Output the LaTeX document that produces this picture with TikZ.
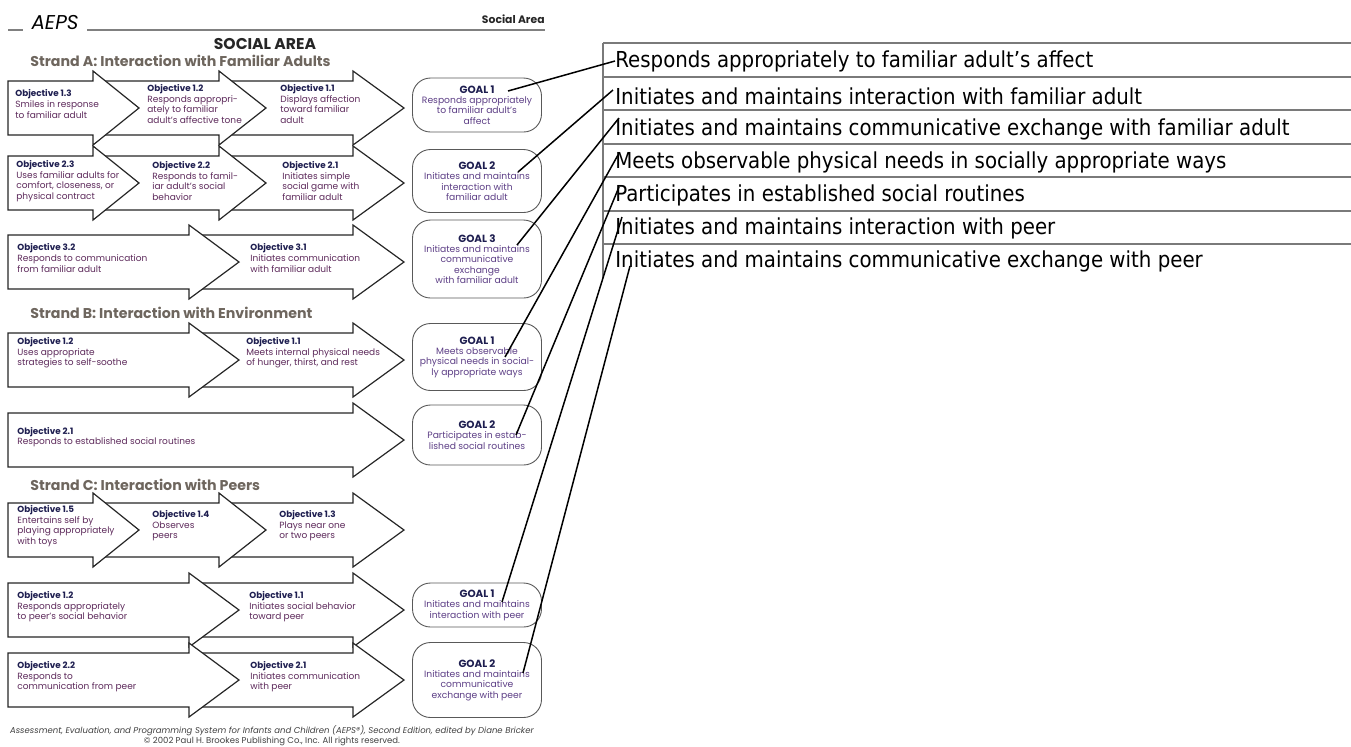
\documentclass[tikz,border=0pt]{standalone}
\usepackage{fontspec}
\setmainfont{Poppins}
\newfontfamily\tablefont{DejaVu Sans Condensed}

\definecolor{objblue}{HTML}{1E1E50}
\definecolor{objtext}{HTML}{5E2B5C}
\definecolor{goaltext}{HTML}{5D3F86}
\definecolor{strandcol}{HTML}{6E665E}
\definecolor{rulegray}{HTML}{7A7A7A}

\newcommand{\objhead}[1]{{\fontsize{4.4}{5.3}\selectfont\bfseries\color{objblue}#1}}
\newcommand{\goalhead}[1]{{\fontsize{5.2}{6}\selectfont\bfseries\color{objblue}#1}}
\newcommand{\objarrow}[4]{\draw[arrowline] (#1,#4-27) -- (#2,#4-27) -- (#2,#4-37) -- (#3,#4) -- (#2,#4+37) -- (#2,#4+27) -- (#1,#4+27) -- cycle;}

\begin{document}
\begin{tikzpicture}[x=0.5pt,y=-0.5pt,
	arrowline/.style={draw=black!85,fill=white,line width=0.6pt,line join=miter},
	objtxt/.style={anchor=west,align=left,inner sep=0pt,text=objtext,font=\fontsize{4.5}{5.3}\selectfont},
	goalbox/.style={draw=black!65,line width=0.45pt,fill=white,rounded corners=9pt,minimum width=64.5pt,inner sep=0pt,align=center,text=goaltext,font=\fontsize{4.6}{5.2}\selectfont},
	strand/.style={anchor=west,inner sep=0pt,text=strandcol,font=\fontsize{7.1}{8}\selectfont\bfseries},
	rowtxt/.style={anchor=west,inner sep=0pt,font=\tablefont\fontsize{11}{13}\selectfont},
	tabrule/.style={draw=rulegray,line width=0.75pt},
	link/.style={draw=black,line width=0.75pt}]
\useasboundingbox (0,0) rectangle (1351,746);

\node[inner sep=0pt,font=\fontsize{10}{12}\selectfont\itshape] (aeps) at (55,23) {AEPS};
\draw[draw=black!50,line width=0.6pt] (8,30) -- (23,30);
\draw[draw=black!50,line width=0.6pt] (87,30) -- (545,30);
\node[anchor=east,inner sep=0pt,font=\fontsize{5.4}{7}\selectfont\bfseries,text=black!85] (area) at (545,19) {Social Area};
\node[inner sep=0pt,font=\fontsize{7.8}{9}\selectfont\bfseries,text=black!85] (title) at (265,44) {SOCIAL AREA};

\node[strand] (strA) at (30,61) {Strand A: Interaction with Familiar Adults};
\node[strand] (strB) at (30,313) {Strand B: Interaction with Environment};
\node[strand] (strC) at (30,485) {Strand C: Interaction with Peers};

\objarrow{219}{353}{404}{108}
\objarrow{93}{219}{266}{108}
\objarrow{8}{93}{139}{108}
\objarrow{219}{353}{404}{183}
\objarrow{93}{219}{266}{183}
\objarrow{8}{93}{139}{183}
\objarrow{189}{353}{404}{262}
\objarrow{8}{189}{239}{262}
\objarrow{189}{353}{404}{360}
\objarrow{8}{189}{239}{360}
\objarrow{8}{353}{404}{440}
\objarrow{219}{353}{404}{530}
\objarrow{93}{219}{266}{530}
\objarrow{8}{93}{139}{530}
\objarrow{189}{353}{404}{610}
\objarrow{8}{189}{239}{610}
\objarrow{189}{353}{404}{680}
\objarrow{8}{189}{239}{680}

\node[objtxt] (oA13) at (15,104) {\objhead{Objective 1.3}\\Smiles in response\\to familiar adult};
\node[objtxt] (oA12) at (147,104) {\objhead{Objective 1.2}\\Responds appropri-\\ately to familiar\\adult's affective tone};
\node[objtxt] (oA11) at (280,104) {\objhead{Objective 1.1}\\Displays affection\\toward familiar\\adult};
\node[objtxt] (oA23) at (16,181) {\objhead{Objective 2.3}\\Uses familiar adults for\\comfort, closeness, or\\physical contract};
\node[objtxt] (oA22) at (152,181) {\objhead{Objective 2.2}\\Responds to famil-\\iar adult's social\\behavior};
\node[objtxt] (oA21) at (282,181) {\objhead{Objective 2.1}\\Initiates simple\\social game with\\familiar adult};
\node[objtxt] (oA32) at (17,258) {\objhead{Objective 3.2}\\Responds to communication\\from familiar adult};
\node[objtxt] (oA31) at (250,258) {\objhead{Objective 3.1}\\Initiates communication\\with familiar adult};
\node[objtxt] (oB12) at (17,353) {\objhead{Objective 1.2}\\Uses appropriate\\strategies to self-soothe};
\node[objtxt] (oB11) at (246,353) {\objhead{Objective 1.1}\\Meets internal physical needs\\of hunger, thirst, and rest};
\node[objtxt] (oB21) at (17,437) {\objhead{Objective 2.1}\\Responds to established social routines};
\node[objtxt] (oC15) at (17,526) {\objhead{Objective 1.5}\\Entertains self by\\playing appropriately\\with toys};
\node[objtxt] (oC14) at (152,526) {\objhead{Objective 1.4}\\Observes\\peers};
\node[objtxt] (oC13) at (279,526) {\objhead{Objective 1.3}\\Plays near one\\or two peers};
\node[objtxt] (oC12) at (17,607) {\objhead{Objective 1.2}\\Responds appropriately\\to peer's social behavior};
\node[objtxt] (oC11) at (249,607) {\objhead{Objective 1.1}\\Initiates social behavior\\toward peer};
\node[objtxt] (oC22) at (17,677) {\objhead{Objective 2.2}\\Responds to\\communication from peer};
\node[objtxt] (oC21) at (250,677) {\objhead{Objective 2.1}\\Initiates communication\\with peer};

\node[goalbox,minimum height=27pt] (gA1) at (477,105) {\goalhead{GOAL 1}\\Responds appropriately\\to familiar adult's\\affect};
\node[goalbox,minimum height=31.5pt] (gA2) at (477,181) {\goalhead{GOAL 2}\\Initiates and maintains\\interaction with\\familiar adult};
\node[goalbox,minimum height=39pt] (gA3) at (477,259) {\goalhead{GOAL 3}\\Initiates and maintains\\communicative\\exchange\\with familiar adult};
\node[goalbox,minimum height=33.5pt] (gB1) at (477,357) {\goalhead{GOAL 1}\\Meets observable\\physical needs in social-\\ly appropriate ways};
\node[goalbox,minimum height=30pt] (gB2) at (477,435) {\goalhead{GOAL 2}\\Participates in estab-\\lished social routines};
\node[goalbox,minimum height=22pt] (gC1) at (477,605) {\goalhead{GOAL 1}\\Initiates and maintains\\interaction with peer};
\node[goalbox,minimum height=37.5pt] (gC2) at (477,680) {\goalhead{GOAL 2}\\Initiates and maintains\\communicative\\exchange with peer};

\node[align=center,inner sep=0pt,text=black!75,font=\fontsize{4.25}{5}\selectfont] (foot) at (272,736) {\textit{Assessment, Evaluation, and Programming System for Infants and Children (AEPS®), Second Edition, edited by Diane Bricker}\\© 2002 Paul H. Brookes Publishing Co., Inc. All rights reserved.};

\foreach \y in {43,77,110,144,177,211,244}
	\draw[tabrule] (603,\y) -- (1351,\y);
\draw[tabrule] (603,43) -- (603,278);

\node[rowtxt] (tA1) at (615,61) {Responds appropriately to familiar adult’s affect};
\node[rowtxt] (tA2) at (615,96) {Initiates and maintains interaction with familiar adult};
\node[rowtxt] (tA3) at (615,129) {Initiates and maintains communicative exchange with familiar adult};
\node[rowtxt] (tB1) at (615,162) {Meets observable physical needs in socially appropriate ways};
\node[rowtxt] (tB2) at (615,195) {Participates in established social routines};
\node[rowtxt] (tC1) at (615,228) {Initiates and maintains interaction with peer};
\node[rowtxt] (tC2) at (615,261) {Initiates and maintains communicative exchange with peer};

\path (gA1.center) ++(31,-14) coordinate (sA1);
\path (gA2.center) ++(41,-9) coordinate (sA2);
\path (gA3.center) ++(40,-14) coordinate (sA3);
\path (gB1.center) ++(28,0) coordinate (sB1);
\path (gB2.center) ++(39,0) coordinate (sB2);
\path (gC1.center) ++(25,-3) coordinate (sC1);
\path (gC2.center) ++(46,-7) coordinate (sC2);
\path (tA2.west) ++(-2,-6) coordinate (eA2);
\path (tA3.west) ++(4,-11) coordinate (eA3);
\path (tB1.west) ++(3,-7) coordinate (eB1);
\path (tB2.west) ++(4,-8) coordinate (eB2);
\path (tC1.west) ++(7,-11) coordinate (eC1);
\path (tC2.west) ++(15,5) coordinate (eC2);

\draw[link] (sA1) -- (tA1.west);
\draw[link] (sA2) -- (eA2);
\draw[link] (sA3) -- (eA3);
\draw[link] (sB1) -- (eB1);
\draw[link] (sB2) -- (eB2);
\draw[link] (sC1) -- (eC1);
\draw[link] (sC2) -- (eC2);

\end{tikzpicture}
\end{document}
